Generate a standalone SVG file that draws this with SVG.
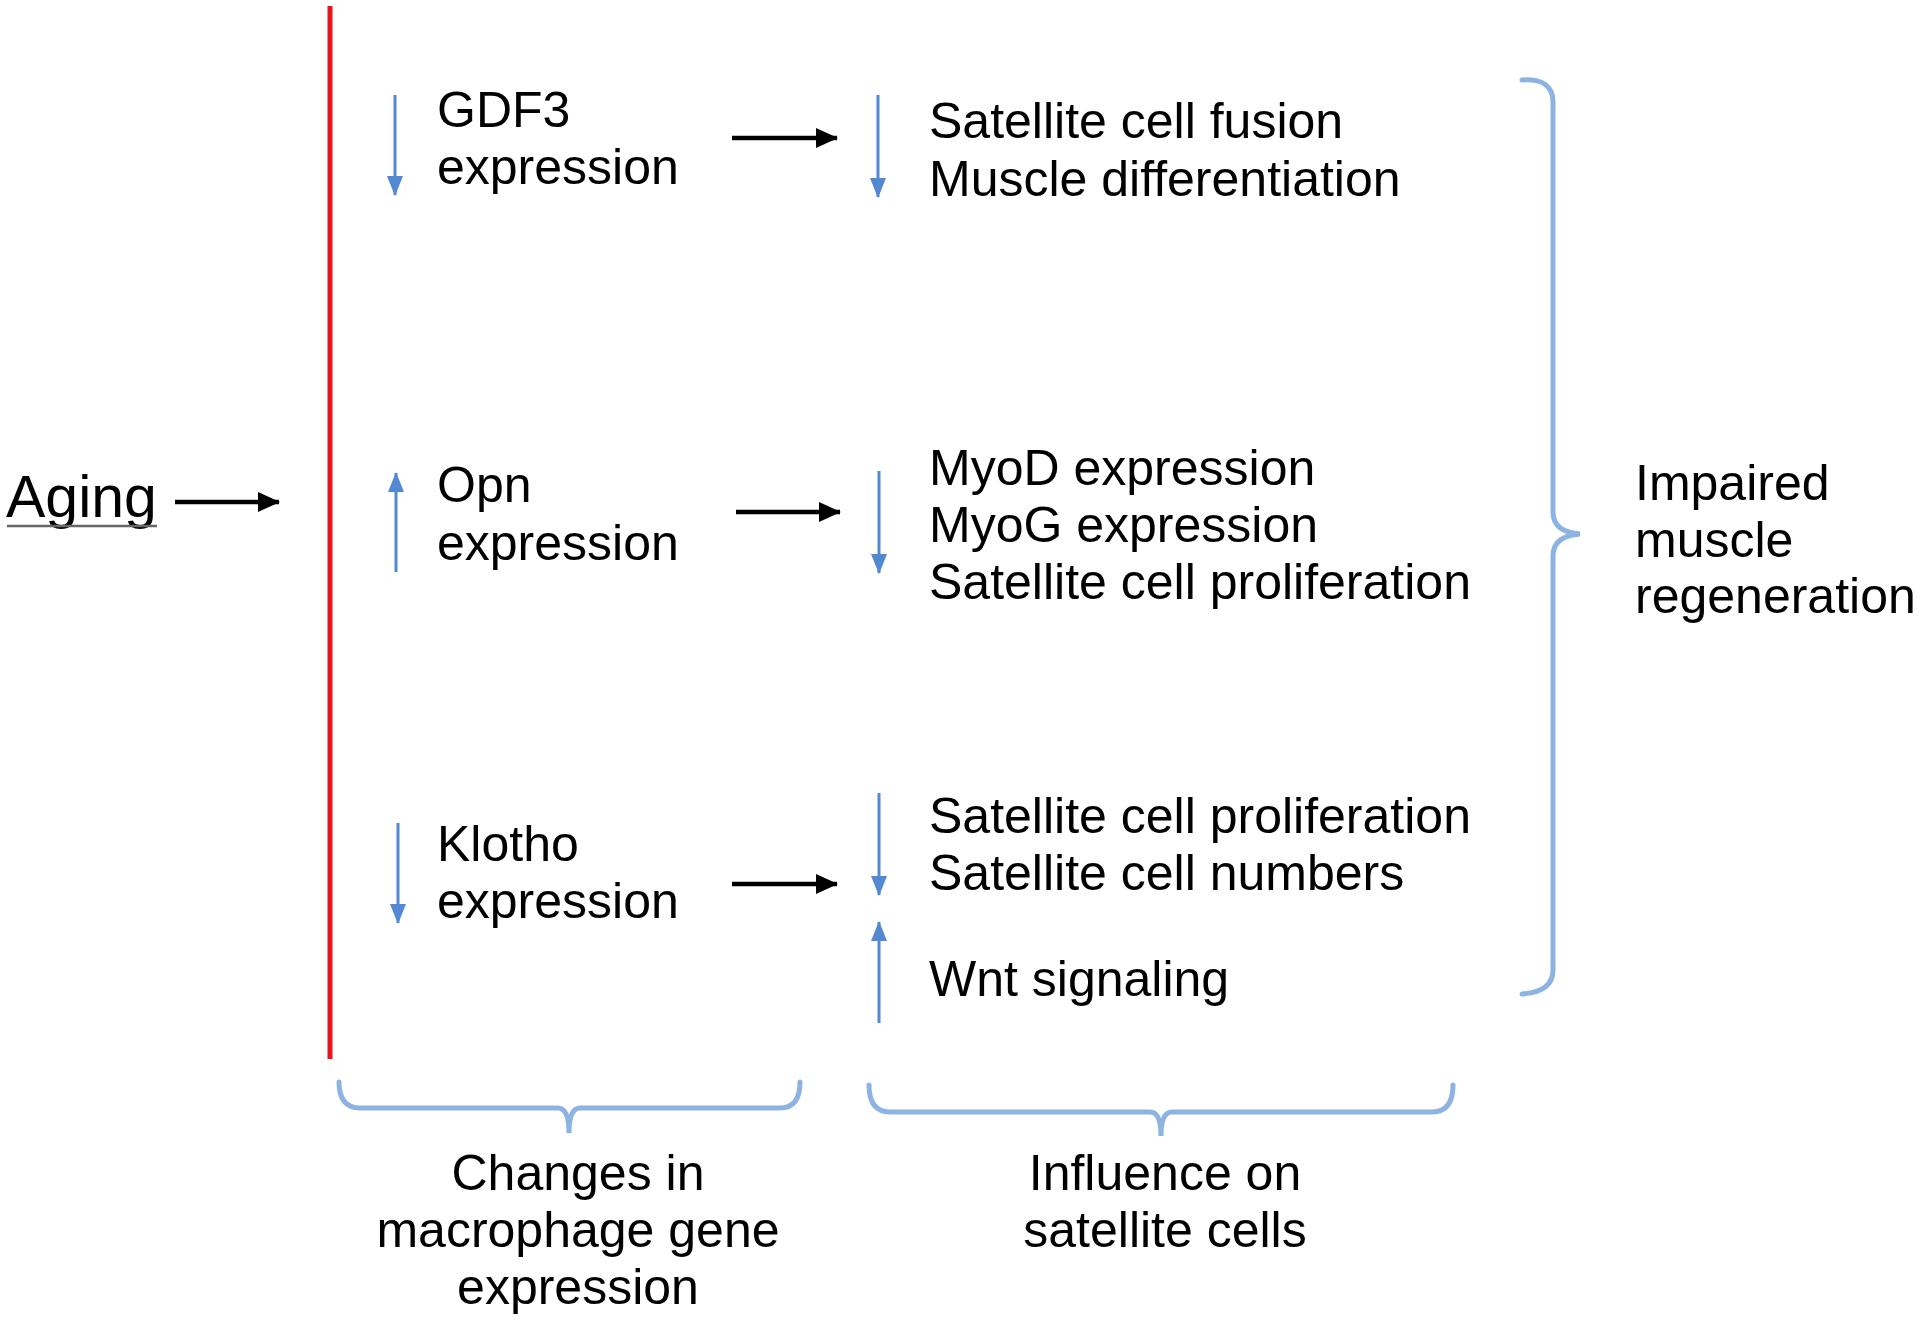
<svg xmlns="http://www.w3.org/2000/svg" width="1920" height="1323" viewBox="0 0 1920 1323">
<style>
text{font-family:"Liberation Sans",Arial,Helvetica,sans-serif;font-size:50px;fill:#000}
.blue{stroke:#5389d2;stroke-width:3;fill:none}
.blk{stroke:#000;stroke-width:4.5;fill:none}
.brace{stroke:#8db3e2;stroke-width:5;fill:none;stroke-linecap:round}
.mid{text-anchor:middle}
</style>
<defs>
<marker id="hb" viewBox="0 0 20 16" refX="19" refY="8" markerWidth="20" markerHeight="16" markerUnits="userSpaceOnUse" orient="auto"><path d="M0,0 L20,8 L0,16 z" fill="#5389d2"/></marker>
<marker id="hk" viewBox="0 0 22 20" refX="21" refY="10" markerWidth="22" markerHeight="20" markerUnits="userSpaceOnUse" orient="auto"><path d="M0,0 L22,10 L0,20 z" fill="#000"/></marker>
</defs>
<rect width="1920" height="1323" fill="#fff"/>
<g id="aging">
<text x="6" y="517" style="font-size:59px">Aging</text>
<line x1="7" y1="526" x2="157" y2="526" stroke="#666" stroke-width="2.5"/>
</g>
<line id="red-bar" x1="330" y1="6" x2="330" y2="1059" stroke="#e8141b" stroke-width="5"/>
<g id="gdf3"><text x="437" y="127">GDF3</text><text x="437" y="184">expression</text></g>
<g id="opn"><text x="437" y="502">Opn</text><text x="437" y="560">expression</text></g>
<g id="klotho"><text x="437" y="861">Klotho</text><text x="437" y="918">expression</text></g>
<g id="effect1"><text x="929" y="138">Satellite cell fusion</text><text x="929" y="196">Muscle differentiation</text></g>
<g id="effect2"><text x="929" y="485">MyoD expression</text><text x="929" y="542">MyoG expression</text><text x="929" y="599">Satellite cell proliferation</text></g>
<g id="effect3"><text x="929" y="833">Satellite cell proliferation</text><text x="929" y="890">Satellite cell numbers</text><text x="929" y="996">Wnt signaling</text></g>
<g id="outcome"><text x="1635" y="500">Impaired</text><text x="1635" y="557">muscle</text><text x="1635" y="613">regeneration</text></g>
<g id="label-changes"><text class="mid" x="578" y="1190">Changes in</text><text class="mid" x="578" y="1247">macrophage gene</text><text class="mid" x="578" y="1304">expression</text></g>
<g id="label-influence"><text class="mid" x="1165" y="1190">Influence on</text><text class="mid" x="1165" y="1247">satellite cells</text></g>
<g id="connectors">
<line class="blk" x1="175" y1="502" x2="279" y2="502" marker-end="url(#hk)"/>
<line class="blk" x1="732" y1="138" x2="837" y2="138" marker-end="url(#hk)"/>
<line class="blk" x1="736" y1="512" x2="840" y2="512" marker-end="url(#hk)"/>
<line class="blk" x1="732" y1="884" x2="837" y2="884" marker-end="url(#hk)"/>
<line class="blue" x1="395" y1="95" x2="395" y2="195" marker-end="url(#hb)"/>
<line class="blue" x1="396" y1="572" x2="396" y2="473" marker-end="url(#hb)"/>
<line class="blue" x1="398" y1="823" x2="398" y2="923" marker-end="url(#hb)"/>
<line class="blue" x1="878" y1="95" x2="878" y2="197" marker-end="url(#hb)"/>
<line class="blue" x1="879" y1="471" x2="879" y2="573" marker-end="url(#hb)"/>
<line class="blue" x1="879" y1="793" x2="879" y2="895" marker-end="url(#hb)"/>
<line class="blue" x1="879" y1="1023" x2="879" y2="922" marker-end="url(#hb)"/>
</g>
<g id="braces">
<path class="brace" d="M1522,80 Q1553,78 1553,102 L1553,512 Q1553,532 1580,534 Q1553,536 1553,556 L1553,970 Q1553,992 1522,994"/>
<path class="brace" d="M339,1082 Q339,1108 360,1108 L558,1108 Q569,1108 569,1133 Q569,1108 580,1108 L780,1108 Q800,1108 800,1082"/>
<path class="brace" d="M869,1085 Q869,1112 890,1112 L1150,1112 Q1161,1112 1161,1136 Q1161,1112 1172,1112 L1432,1112 Q1453,1112 1453,1085"/>
</g>
</svg>
